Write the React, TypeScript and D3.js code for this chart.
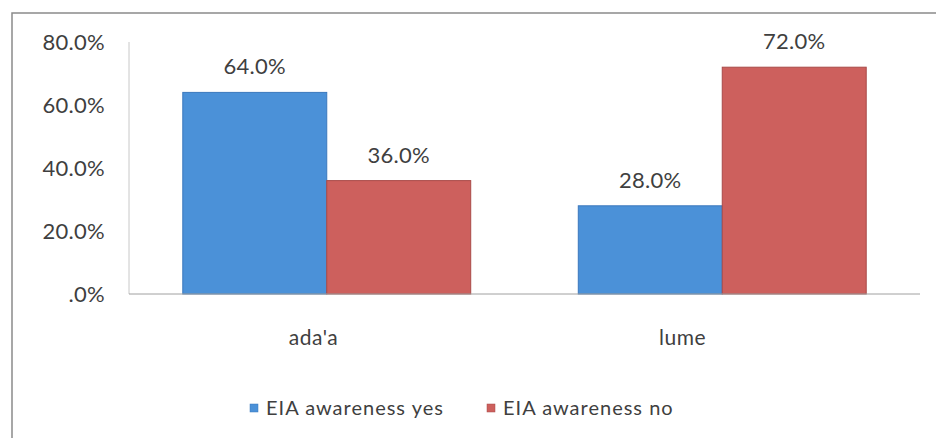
import React from "react";
import * as d3 from "d3";

const W = 936;
const H = 438;

const categories = ["ada'a", "lume"];
const seriesNames = ["EIA awareness yes", "EIA awareness no"];
const yesValues = [64.0, 28.0];
const noValues = [36.0, 72.0];
const tickValues = [0, 20, 40, 60, 80];

const COLORS = ["#4b91d8", "#cd605d"];
const STROKES = ["#3b78bd", "#a94a48"];
const FONT = "Lato, 'Open Sans', sans-serif";
const TEXT = "#3f3f3f";

const plot = { left: 129, right: 920, top: 42, bottom: 294 };

export default function App() {
  const x = d3.scaleBand<string>().domain(categories).range([plot.left, plot.right]);
  // category labels sit a little left of the group centres in the original
  const xLabel = d3.scaleBand<string>().domain(categories).range([plot.left, 867]);
  const inner = d3
    .scaleBand<number>()
    .domain([0, 1])
    .range([0, x.bandwidth() * 0.728]);
  const groupOffset = (x.bandwidth() - x.bandwidth() * 0.728) / 2;
  const y = d3.scaleLinear().domain([0, 80]).range([plot.bottom, plot.top]);

  const series = [yesValues, noValues];
  const fmt = (v: number) => (v === 0 ? ".0%" : d3.format(".1f")(v) + "%");

  return (
    <svg width={W} height={H} style={{ position: "absolute", left: 0, top: 0, background: "#fff" }}>
      <rect x={12} y={13} width={W + 20} height={H + 20} fill="#fff" stroke="#8a8a8a" strokeWidth={1.5} />

      {/* y axis */}
      <line x1={plot.left} x2={plot.left} y1={plot.top} y2={plot.bottom} stroke="#c8c8c8" />
      {tickValues.map((t) => (
        <text
          key={t}
          x={105}
          y={y(t)}
          dy="0.35em"
          textAnchor="end"
          fontFamily={FONT}
          fontSize={22}
          letterSpacing={0.3}
          fill={TEXT}
        >
          {fmt(t)}
        </text>
      ))}

      {/* bars */}
      {series.map((vals, si) =>
        categories.map((c, ci) => {
          const bx = (x(c) as number) + groupOffset + (inner(si) as number);
          const v = vals[ci];
          return (
            <g key={`${si}-${ci}`}>
              <rect
                x={bx}
                y={y(v)}
                width={inner.bandwidth()}
                height={y(0) - y(v)}
                fill={COLORS[si]}
                stroke={STROKES[si]}
                strokeWidth={1}
              />
              <text
                x={bx + inner.bandwidth() / 2}
                y={y(v) - 18}
                textAnchor="middle"
                fontFamily={FONT}
                fontSize={22}
                letterSpacing={0.3}
                fill={TEXT}
              >
                {fmt(v)}
              </text>
            </g>
          );
        })
      )}

      {/* x baseline */}
      <line x1={plot.left} x2={plot.right} y1={plot.bottom} y2={plot.bottom} stroke="#a0a0a0" />
      {categories.map((c) => (
        <text
          key={c}
          x={(xLabel(c) as number) + xLabel.bandwidth() / 2}
          y={338}
          dy="0.35em"
          textAnchor="middle"
          fontFamily={FONT}
          fontSize={21}
          letterSpacing={0.5}
          fill={TEXT}
        >
          {c}
        </text>
      ))}

      {/* legend */}
      {seriesNames.map((name, i) => {
        const lx = [250, 487][i];
        return (
          <g key={name} transform={`translate(${lx},408)`}>
            <rect x={0} y={-4} width={8} height={8} fill={COLORS[i]} stroke={STROKES[i]} strokeWidth={0.5} />
            <text
              x={16}
              y={0}
              dy="0.35em"
              fontFamily={FONT}
              fontSize={20}
              letterSpacing={1}
              fill={TEXT}
            >
              {name}
            </text>
          </g>
        );
      })}
    </svg>
  );
}
